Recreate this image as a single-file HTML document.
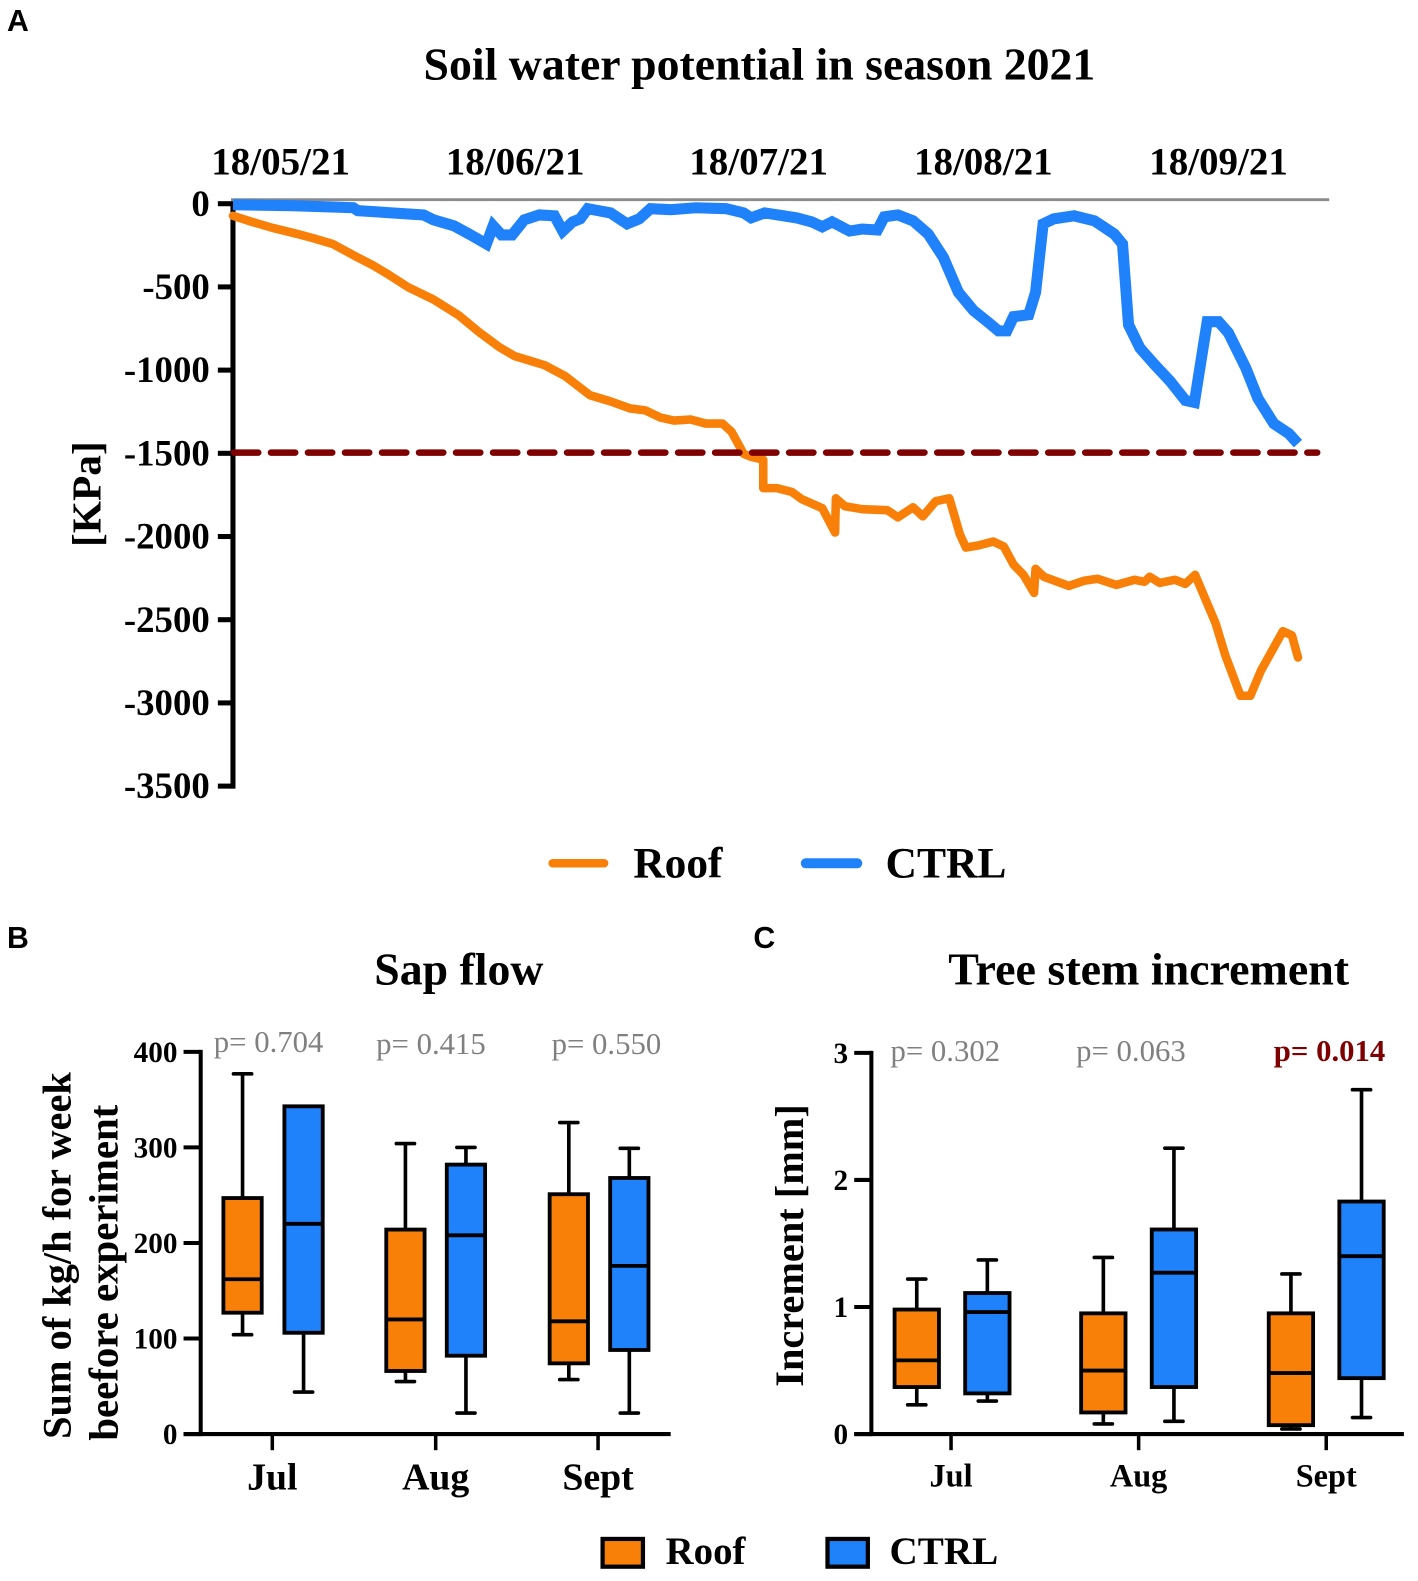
<!DOCTYPE html>
<html lang="en">
<head>
<meta charset="utf-8">
<title>Soil water potential, sap flow and tree stem increment</title>
<style>
html,body{margin:0;padding:0;background:#fff;width:1418px;height:1581px;overflow:hidden}
svg{display:block}
text{font-family:"Liberation Serif",serif;font-weight:bold;fill:#000}
.letter{font-family:"Liberation Sans",sans-serif;font-size:30px}
.pval{font-weight:normal;font-size:30.5px;fill:#808080}
</style>
</head>
<body>
<svg id="figure" width="1418" height="1581" viewBox="0 0 1406 1567.7" preserveAspectRatio="none" xmlns="http://www.w3.org/2000/svg">
  <text class="letter" x="7" y="31">A</text>
  <text x="753" y="79" text-anchor="middle" font-size="45.4">Soil water potential in season 2021</text>
  <text transform="translate(99.5,490) rotate(-90)" text-anchor="middle" font-size="41">[KPa]</text>
  <g id="panelA"></g>
  <g>
    <line x1="548" y1="856" x2="599" y2="856" stroke="#f98008" stroke-width="8.5" stroke-linecap="round"/>
    <text x="628" y="870" font-size="43">Roof</text>
    <line x1="799" y1="856" x2="850" y2="856" stroke="#1f82fb" stroke-width="10" stroke-linecap="round"/>
    <text x="878" y="870" font-size="43.2">CTRL</text>
  </g>

  <text class="letter" x="7" y="940">B</text>
  <text x="455" y="976" text-anchor="middle" font-size="45.4">Sap flow</text>
  <text transform="translate(70,1245) rotate(-90)" text-anchor="middle" font-size="40">Sum of kg/h for week</text>
  <text transform="translate(116.5,1262) rotate(-90)" text-anchor="middle" font-size="40.5">beefore experiment</text>
  <g id="panelB"></g>
  <text class="pval" x="212" y="1043">p= 0.704</text>
  <text class="pval" x="373" y="1045">p= 0.415</text>
  <text class="pval" x="547" y="1045">p= 0.550</text>

  <text class="letter" x="747" y="940">C</text>
  <text x="1139" y="976" text-anchor="middle" font-size="45.6">Tree stem increment</text>
  <text transform="translate(796,1235) rotate(-90)" text-anchor="middle" font-size="40">Increment [mm]</text>
  <g id="panelC"></g>
  <text class="pval" x="883" y="1052">p= 0.302</text>
  <text class="pval" x="1067" y="1052">p= 0.063</text>
  <text class="pval" x="1263" y="1052" style="font-weight:bold;fill:#7f0000">p= 0.014</text>

  <g>
    <rect x="597.5" y="1526" width="40" height="27.5" fill="#f98008" stroke="#000" stroke-width="4.2"/>
    <text x="660" y="1551" font-size="38.5">Roof</text>
    <rect x="820.5" y="1526" width="40" height="27.5" fill="#1f82fb" stroke="#000" stroke-width="4.2"/>
    <text x="882" y="1551" font-size="38.8">CTRL</text>
  </g>
</svg>
<script>
// ---- Panel A data: days since the first reading, potential in kPa ----
var roofDays = [0,2.5,5.2,8.5,10.5,13.2,15.9,18.5,20.5,23.2,26.5,29.9,32.5,35.2,37.2,41.2,43.9,47.2,49.9,52.5,54.5,56.5,58.3,60.5,62.5,64.7,65.9,67.5,68.5,70.1,70.1,71.9,73.9,75.2,77.9,79.6,79.7,80.9,83.2,86.5,87.9,89.9,91.2,92.9,94.7,96.1,96.9,98.5,100.5,101.9,103.2,104.5,105.9,106.1,107.2,110.5,112.5,114.3,116.8,119.2,120.5,121.2,122.5,124.5,125.9,127.2,129.9,131.2,133.2,134.5,135.9,138.8,140,140.8];
var roofKpa = [-73,-109,-145,-182,-206,-242,-309,-370,-424,-503,-576,-673,-770,-861,-915,-970,-1036,-1151,-1188,-1230,-1242,-1285,-1303,-1297,-1321,-1321,-1370,-1503,-1521,-1539,-1709,-1709,-1733,-1776,-1830,-1976,-1770,-1818,-1836,-1842,-1885,-1824,-1879,-1788,-1770,-1988,-2066,-2054,-2030,-2060,-2169,-2230,-2339,-2194,-2242,-2297,-2266,-2254,-2291,-2260,-2272,-2242,-2279,-2260,-2285,-2230,-2521,-2715,-2957,-2957,-2806,-2569,-2594,-2727];
var ctrlDays = [0,7.9,15.9,16.5,25.2,26.5,29.2,31.2,33.5,34.4,35.5,36.9,38.5,40.5,42.5,43.6,44.9,45.9,46.9,49.9,52.1,53.7,55.2,57.9,61.2,65.2,67.5,68.5,70.3,74.5,76.5,77.9,79.2,81.5,83.2,85.2,86.1,87.9,89.9,91.9,93.9,95.9,97.9,99.9,101.2,102.3,103.2,105.2,106.1,107.1,108.5,111.2,113.9,116.5,117.6,118.4,119.9,121.9,123.9,125.9,127.1,128.8,130.3,131.6,133.9,135.5,137.6,139.6,140.8];
var ctrlKpa = [-6,-12,-24,-42,-67,-97,-133,-182,-242,-133,-188,-188,-97,-67,-73,-164,-109,-91,-30,-55,-121,-91,-30,-36,-24,-30,-55,-85,-55,-85,-109,-139,-109,-164,-152,-158,-79,-67,-103,-182,-321,-533,-642,-715,-764,-764,-679,-667,-533,-121,-91,-73,-103,-182,-242,-727,-867,-970,-1067,-1182,-1194,-709,-709,-776,-988,-1170,-1321,-1382,-1442];
var kpaTicks = [0,-500,-1000,-1500,-2000,-2500,-3000,-3500];
var dateLabels = ["18/05/21","18/06/21","18/07/21","18/08/21","18/09/21"];
var dateDays = [6.3,37.3,69.5,99.2,130.3];
var thresholdKpa = -1500;

// ---- Panel B data: sap flow box plots ----
var months = ["Jul","Aug","Sept"];
var sapRoofLow = [104,55,57];
var sapRoofQ1 = [127,66,74];
var sapRoofMedian = [162,120,118];
var sapRoofQ3 = [247,214,251];
var sapRoofHigh = [377,304,326];
var sapCtrlLow = [44,22,22];
var sapCtrlQ1 = [106,82,88];
var sapCtrlMedian = [220,208,176];
var sapCtrlQ3 = [343,282,268];
var sapCtrlHigh = [343,300,299];
var sapTicks = [0,100,200,300,400];

// ---- Panel C data: stem increment box plots ----
var incRoofLow = [0.23,0.08,0.04];
var incRoofQ1 = [0.37,0.17,0.07];
var incRoofMedian = [0.58,0.50,0.48];
var incRoofQ3 = [0.98,0.95,0.95];
var incRoofHigh = [1.22,1.39,1.26];
var incCtrlLow = [0.26,0.10,0.13];
var incCtrlQ1 = [0.32,0.37,0.44];
var incCtrlMedian = [0.96,1.27,1.40];
var incCtrlQ3 = [1.11,1.61,1.83];
var incCtrlHigh = [1.37,2.25,2.71];
var incTicks = [0,1,2,3];

var NS = "http://www.w3.org/2000/svg";
function make(parent, tag, props, txt) {
  var el = document.createElementNS(NS, tag);
  for (var k in props) el.setAttribute(k, props[k]);
  if (txt !== undefined) el.textContent = txt;
  parent.appendChild(el);
  return el;
}

// Panel A axes
var gA = document.getElementById("panelA");
function xA(day) { return 231 + day * 7.5; }
function yA(kpa) { return 202 - kpa * 0.165; }

var topLine = make(gA, "line", {x1:229, x2:1318, y1:198, y2:198, stroke:"#8c8c8c", "stroke-width":2.8});



var axisA = make(gA, "line", {x1:231, x2:231, y1:yA(0)-2, y2:yA(-3500)+2.5, stroke:"#000", "stroke-width":5});



kpaTicks.forEach(function (t) {
  var tick = make(gA, "line", {x1:216, x2:231, y1:yA(t), y2:yA(t), stroke:"#000", "stroke-width":5});
  
  
  var lab = make(gA, "text", {x:208, y:yA(t)+12, "text-anchor":"end", "font-size":36.5}, String(t));
  
  
});

dateLabels.forEach(function (d, i) {
  var lab = make(gA, "text", {x:xA(dateDays[i]), y:173, "text-anchor":"middle", "font-size":38.7}, d);
  
  
});

function linePath(days, vals) {
  return days.map(function (d, i) { return (i ? "L" : "M") + xA(d).toFixed(1) + " " + yA(vals[i]).toFixed(1); }).join("");
}

var roofLine = make(gA, "path", {d:linePath(roofDays, roofKpa), fill:"none", stroke:"#f98008", "stroke-width":8.5, "stroke-linejoin":"round", "stroke-linecap":"round"});



var ctrlLine = make(gA, "path", {d:linePath(ctrlDays, ctrlKpa), fill:"none", stroke:"#1f82fb", "stroke-width":11, "stroke-linejoin":"miter", "stroke-miterlimit":2});



var threshold = make(gA, "line", {x1:232, x2:1306, y1:yA(thresholdKpa)-0.7, y2:yA(thresholdKpa)-0.7, stroke:"#7f0000", "stroke-width":6.5, "stroke-dasharray":"24 12.7", "stroke-linecap":"round"});



// Box plot panels
function drawBoxes(g, cfg) {
  function y(v) { return cfg.y0 - v * cfg.pxPerUnit; }
  cfg.ticks.forEach(function (t) {
    var tick = make(g, "line", {x1:cfg.axisX-17, x2:cfg.axisX, y1:y(t), y2:y(t), stroke:"#000", "stroke-width":4});
    
    
    var lab = make(g, "text", {x:cfg.axisX-23, y:y(t)+10, "text-anchor":"end", "font-size":29}, String(t));
    
    
  });
  var ya = make(g, "line", {x1:cfg.axisX, x2:cfg.axisX, y1:y(cfg.ticks[cfg.ticks.length-1])-2, y2:cfg.y0+2, stroke:"#000", "stroke-width":4});
  
  
  var xa = make(g, "line", {x1:cfg.axisX-17, x2:cfg.axisEnd, y1:cfg.y0, y2:cfg.y0, stroke:"#000", "stroke-width":4});
  
  

  months.forEach(function (m, i) {
    var cx = cfg.tickX[i];
    var tk = make(g, "line", {x1:cx, x2:cx, y1:cfg.y0, y2:cfg.y0+16, stroke:"#000", "stroke-width":3.5});
    
    
    var lab = make(g, "text", {x:cx, y:cfg.labelY, "text-anchor":"middle", "font-size":cfg.labelSize}, m);
    
    

    cfg.series.forEach(function (s, j) {
      var c = s.centers[i];
      var hw = cfg.boxW / 2;
      var group = make(g, "g", {});
      
      
      var whisker = make(group, "line", {x1:c, x2:c, y1:y(s.high[i]), y2:y(s.low[i]), stroke:"#000", "stroke-width":3.6});
      
      
      [s.high[i], s.low[i]].forEach(function (v) {
        var cap = make(group, "line", {x1:c-9, x2:c+9, y1:y(v), y2:y(v), stroke:"#000", "stroke-width":3.6, "stroke-linecap":"round"});
        
        
      });
      var box = make(group, "rect", {x:c-hw, y:y(s.q3[i]), width:cfg.boxW, height:y(s.q1[i])-y(s.q3[i]), fill:s.color, stroke:"#000", "stroke-width":3.8});
      
      
      var med = make(group, "line", {x1:c-hw, x2:c+hw, y1:y(s.median[i]), y2:y(s.median[i]), stroke:"#000", "stroke-width":3.8});
      
      
    });
  });
}

drawBoxes(document.getElementById("panelB"), {
  y0:1422, pxPerUnit:0.9475, axisX:199, axisEnd:665, ticks:sapTicks, boxW:38,
  tickX:[270,432,593], labelY:1477, labelSize:37.5,
  series:[
    {name:"roof", color:"#f98008", centers:[240.5,402,564], low:sapRoofLow, q1:sapRoofQ1, median:sapRoofMedian, q3:sapRoofQ3, high:sapRoofHigh},
    {name:"ctrl", color:"#1f82fb", centers:[301,462,624], low:sapCtrlLow, q1:sapCtrlQ1, median:sapCtrlMedian, q3:sapCtrlQ3, high:sapCtrlHigh}
  ]
});

drawBoxes(document.getElementById("panelC"), {
  y0:1422, pxPerUnit:126, axisX:864, axisEnd:1392, ticks:incTicks, boxW:44,
  tickX:[943,1129,1315], labelY:1474, labelSize:32,
  series:[
    {name:"roof", color:"#f98008", centers:[909,1094,1280], low:incRoofLow, q1:incRoofQ1, median:incRoofMedian, q3:incRoofQ3, high:incRoofHigh},
    {name:"ctrl", color:"#1f82fb", centers:[979,1164,1350], low:incCtrlLow, q1:incCtrlQ1, median:incCtrlMedian, q3:incCtrlQ3, high:incCtrlHigh}
  ]
});
</script>
</body>
</html>
